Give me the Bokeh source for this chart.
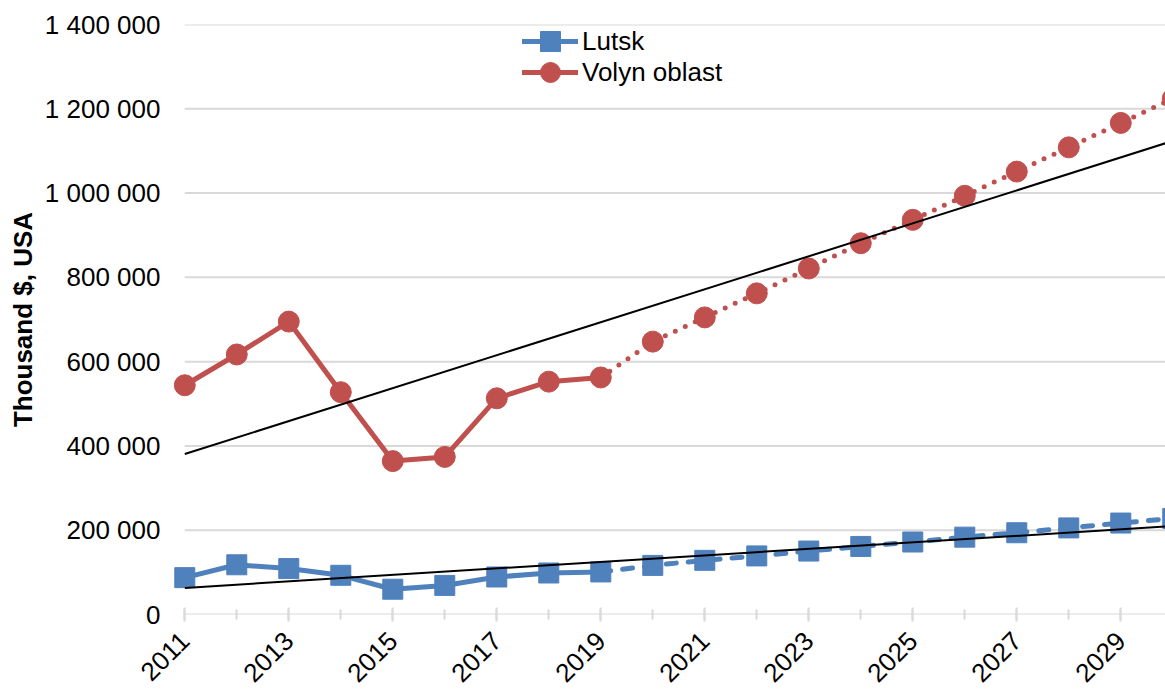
import math
from bokeh.plotting import figure
from bokeh.models import Range1d, FixedTicker, Legend, LegendItem
from bokeh.embed import file_html
from bokeh.resources import INLINE

# ---- data ----
years = list(range(2011, 2031))
lutsk = [87500, 118000, 109000, 93000, 60000, 69000, 89000, 98500, 101000,
         116500, 128500, 139000, 150500, 161500, 172000, 183500, 194000,
         205500, 217000, 228000]
volyn = [544000, 617000, 695000, 527500, 364000, 374000, 513000, 552500, 562500,
         647500, 705000, 762000, 821000, 881000, 936500, 993500, 1051000,
         1108500, 1166500, 1224000]
last_actual = 2019
trend_years = [2011, 2030]
lutsk_trend = [63000, 209800]
volyn_trend = [380800, 1123700]
y_ticks = [0, 200000, 400000, 600000, 800000, 1000000, 1200000, 1400000]
x_major = list(range(2011, 2030, 2))

FONT = "Liberation Sans"
BLUE = "#4F81BD"
RED = "#C0504D"
GRID = "#d9d9d9"

n_act = years.index(last_actual) + 1
act_years, fc_years = years[:n_act], years[n_act - 1:]

p = figure(width=1165, height=693, output_backend="svg", toolbar_location=None,
           x_range=Range1d(2010.783, 2029.86), y_range=Range1d(0, 1400000),
           min_border_left=173, min_border_right=0, min_border_top=24,
           min_border_bottom=77)
p.outline_line_color = None
p.xgrid.visible = False
p.ygrid.visible = False
p.background_fill_color = "white"
p.border_fill_color = "white"

# horizontal gridlines (start at the first category)
p.segment(x0=[years[0]] * len(y_ticks), x1=[years[-1] + 1] * len(y_ticks),
          y0=y_ticks, y1=y_ticks, line_color=GRID, line_width=2)

# x axis
xa = p.xaxis[0]
xa.ticker = FixedTicker(ticks=x_major, minor_ticks=years)
xa.axis_line_color = None
xa.major_tick_line_color = GRID
xa.major_tick_line_width = 2
xa.major_tick_in = 7
xa.major_tick_out = 7
xa.minor_tick_line_color = GRID
xa.minor_tick_line_width = 2
xa.minor_tick_in = 5
xa.minor_tick_out = 5
xa.major_label_orientation = math.pi / 4
xa.major_label_standoff = 15
xa.major_label_text_font = FONT
xa.major_label_text_font_size = "26px"
xa.major_label_text_color = "black"

# y axis
ya = p.yaxis[0]
ya.ticker = FixedTicker(ticks=y_ticks)
ya.major_label_overrides = {t: f"{t:,}".replace(",", " ") for t in y_ticks}
ya.axis_line_color = None
ya.major_tick_line_color = None
ya.minor_tick_line_color = None
ya.major_label_standoff = 7
ya.major_label_text_font = FONT
ya.major_label_text_font_size = "26px"
ya.major_label_text_color = "black"
ya.axis_label = "Thousand $, USA"
ya.axis_label_text_font = FONT
ya.axis_label_text_font_size = "26px"
ya.axis_label_text_font_style = "bold"
ya.axis_label_text_color = "black"
ya.axis_label_standoff = 4

# series lines
bl = p.line(act_years, lutsk[:n_act], line_color=BLUE, line_width=5,
            line_cap="round", line_join="round")
rl = p.line(act_years, volyn[:n_act], line_color=RED, line_width=5,
            line_cap="round", line_join="round")
p.line(fc_years, lutsk[n_act - 1:], line_color=BLUE, line_width=5,
       line_dash="10 12", line_cap="round")
p.line(fc_years, volyn[n_act - 1:], line_color=RED, line_width=5,
       line_dash="0 11", line_cap="round")

bm = p.scatter(years, lutsk, marker="square", size=20, fill_color=BLUE,
               line_color=BLUE)
rm = p.scatter(years, volyn, marker="circle", size=21, fill_color=RED,
               line_color=RED)

# trend lines
p.line(trend_years, lutsk_trend, line_color="black", line_width=2)
p.line(trend_years, volyn_trend, line_color="black", line_width=2)

# legends (one per row so the markers are full size)
def make_legend(label, renderers, y):
    lg = Legend(items=[LegendItem(label=label, renderers=renderers)],
                location=(349, y), orientation="vertical",
                padding=0, margin=0, spacing=0,
                glyph_width=56, glyph_height=50, label_height=50,
                label_standoff=4,
                label_text_font=FONT, label_text_font_size="26px",
                label_text_color="black",
                border_line_color=None, background_fill_alpha=0)
    p.add_layout(lg)

make_legend("Lutsk", [bl, bm], 548)
make_legend("Volyn oblast", [rl, rm], 517)

open("out.html", "w").write(file_html(p, INLINE))
